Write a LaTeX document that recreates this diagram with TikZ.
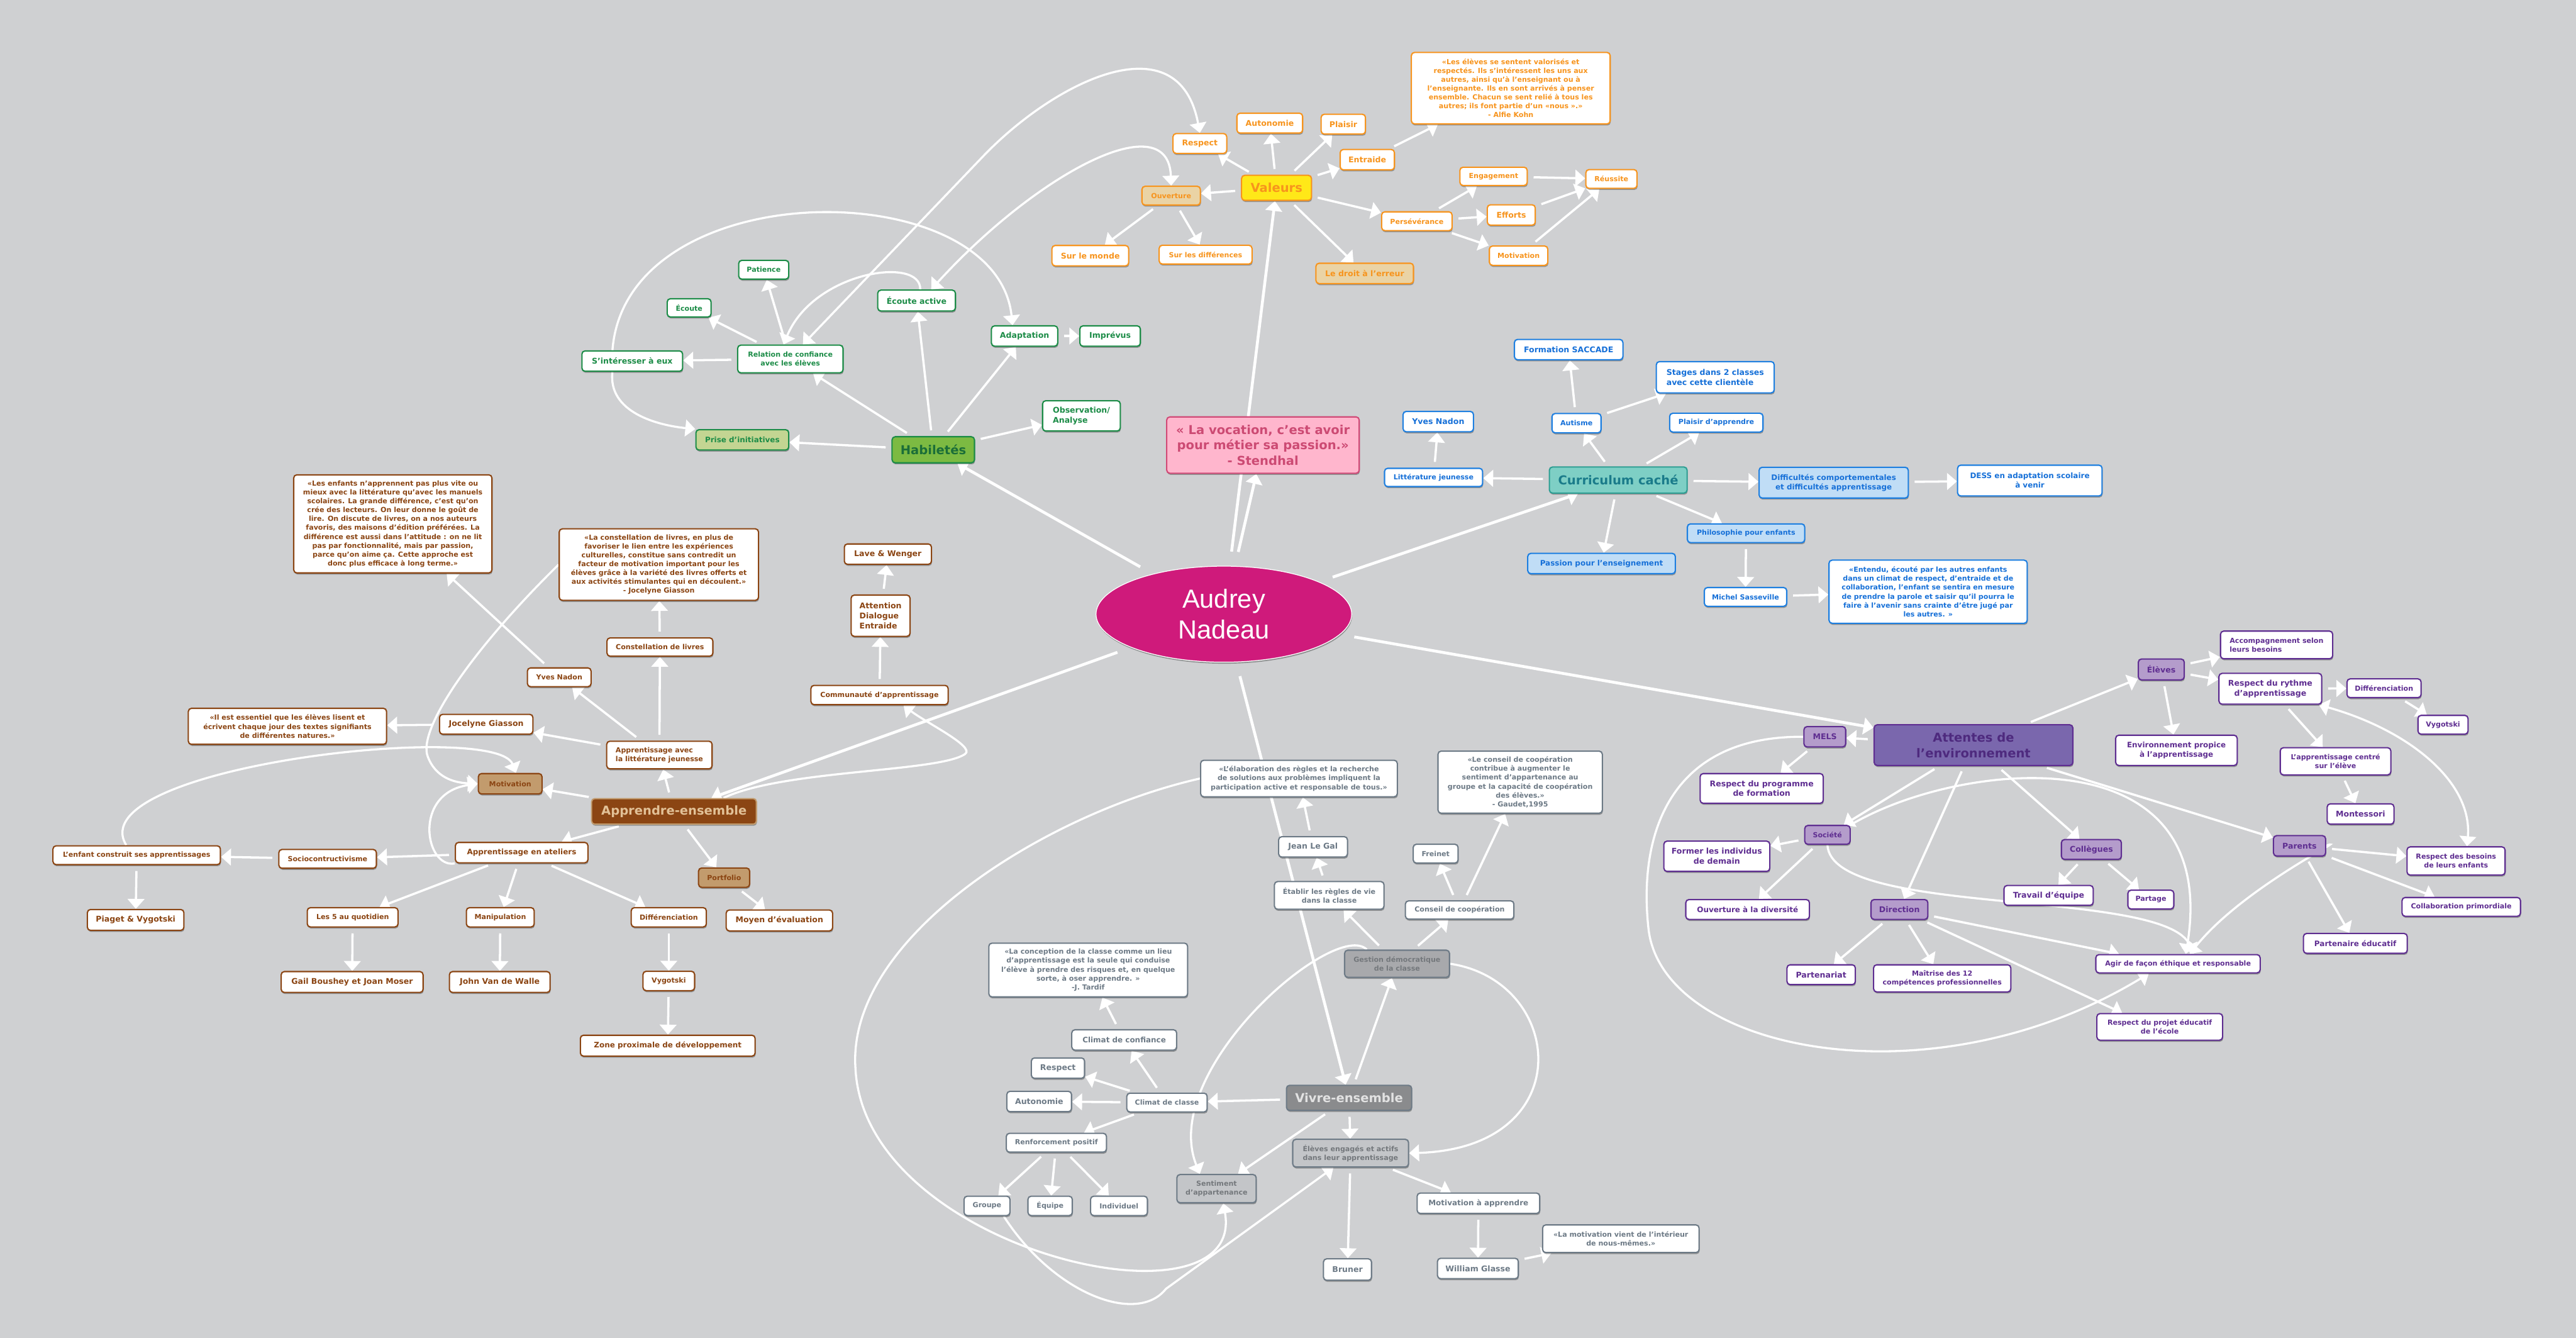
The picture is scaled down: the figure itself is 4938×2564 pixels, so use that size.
\documentclass[tikz,border=0pt]{standalone}
\usepackage{fontspec}
\setmainfont{DejaVu Sans}
\newfontfamily\cfont{Liberation Sans}
\usetikzlibrary{arrows.meta,shapes.geometric,shadows}
\definecolor{bgc}{HTML}{CFD0D2}
\definecolor{orgB}{HTML}{F7941D}
\definecolor{yelF}{HTML}{FFE818}
\definecolor{tanF}{HTML}{EAD3A5}
\definecolor{grnB}{HTML}{1C8C47}
\definecolor{lgF}{HTML}{C3D592}
\definecolor{hgF}{HTML}{7CBA42}
\definecolor{hgT}{HTML}{1B6E38}
\definecolor{bluB}{HTML}{1E7FE0}
\definecolor{bluT}{HTML}{1670D8}
\definecolor{lbF}{HTML}{C0DDF6}
\definecolor{tealF}{HTML}{7ECFC5}
\definecolor{tealB}{HTML}{2E9E93}
\definecolor{tealT}{HTML}{1A7B8A}
\definecolor{brnB}{HTML}{8B4513}
\definecolor{brT}{HTML}{E2C197}
\definecolor{tan2}{HTML}{C29B6D}
\definecolor{gryB}{HTML}{6D7A86}
\definecolor{vivF}{HTML}{8A8B8D}
\definecolor{vivT}{HTML}{E2E2E2}
\definecolor{gesF}{HTML}{A8A9AC}
\definecolor{gesT}{HTML}{74787C}
\definecolor{elF}{HTML}{C3C5C8}
\definecolor{purB}{HTML}{5F2E91}
\definecolor{purF}{HTML}{7A67AD}
\definecolor{purT}{HTML}{4E2A7E}
\definecolor{purL}{HTML}{B49CCB}
\definecolor{pinkF}{HTML}{FFB6CD}
\definecolor{pinkB}{HTML}{D14A77}
\definecolor{pinkT}{HTML}{CC4A73}
\definecolor{cenF}{HTML}{CF1A7B}
\pgfdeclarelayer{bgl}
\pgfdeclarelayer{edges}
\pgfsetlayers{bgl,edges,main}
\tikzset{
  fA/.style={font=\fontsize{8.6pt}{10.8pt}\selectfont\bfseries},
  fM/.style={font=\fontsize{8.2pt}{10.4pt}\selectfont\bfseries},
  fB/.style={font=\fontsize{7.6pt}{9.7pt}\selectfont\bfseries},
  fX/.style={font=\fontsize{13.4pt}{17pt}\selectfont\bfseries},
  sz/.style 2 args={minimum width=#1*0.02cm, minimum height=#2*0.02cm},
  base/.style={rectangle, rounded corners=0.12cm, line width=0.05cm, fill=white,
    inner sep=0.06cm, align=center,
    drop shadow={shadow xshift=0.02cm, shadow yshift=-0.06cm, opacity=0.3, fill=black}},
  thO/.style={base, draw=orgB, text=orgB},
  thG/.style={base, draw=grnB, text=grnB},
  thB/.style={base, draw=bluB, text=bluT},
  thR/.style={base, draw=brnB, text=brnB},
  thY/.style={base, draw=gryB, text=gryB},
  thP/.style={base, draw=purB, text=purB},
  >={Triangle[length=0.38cm,width=0.64cm]},
  ed/.style={draw=white, line width=0.085cm, ->, shorten <=0.22cm},
  ced/.style={draw=white, line width=0.11cm, ->, shorten <=0.55cm},
  rl/.style={draw=white, line width=0.08cm, ->},
  rlb/.style={draw=white, line width=0.08cm, <->}
}
\begin{document}
\begin{tikzpicture}[x=0.02cm,y=-0.02cm]
\begin{pgfonlayer}{bgl}
\fill[bgc] (0,0) rectangle (4938,2564);
\end{pgfonlayer}
\useasboundingbox (0,0) rectangle (4938,2564);

% ---------- centre ----------
\node[ellipse, fill=cenF, draw=white, line width=0.03cm, minimum width=9.8cm, minimum height=3.68cm,
  text=white, align=center, font=\cfont\fontsize{28.5pt}{34pt}\selectfont,
  drop shadow={shadow xshift=0.02cm, shadow yshift=-0.06cm, opacity=0.3, fill=black}] (center) at (2346,1177) {Audrey\\Nadeau};
\node[base, draw=pinkB, fill=pinkF, text=pinkT, fX, sz={369}{108}] (stend) at (2421,853) {« La vocation, c'est avoir\\pour métier sa passion.»\\- Stendhal};

% ---------- Valeurs ----------
\node[thO,fB,sz={381}{137}] (kohn) at (2896,169) {«Les élèves se sentent valorisés et\\respectés. Ils s'intéressent les uns aux\\autres, ainsi qu'à l'enseignant ou à\\l'enseignante. Ils en sont arrivés à penser\\ensemble. Chacun se sent relié à tous les\\autres; ils font partie d'un «nous ».»\\- Alfie Kohn};
\node[thO,fA,sz={126}{38}] (auto) at (2434,236) {Autonomie};
\node[thO,fA,sz={85}{38}] (plaisir) at (2575,238) {Plaisir};
\node[thO,fA,sz={103}{38}] (respO) at (2300,275) {Respect};
\node[thO,fA,sz={104}{39}] (entr) at (2621,306) {Entraide};
\node[thO,fX,fill=yelF,sz={134}{48}] (val) at (2447,360) {Valeurs};
\node[thO,fB,fill=tanF,sz={112}{36}] (ouv) at (2245,375) {Ouverture};
\node[thO,fB,sz={129}{35}] (eng) at (2863,338) {Engagement};
\node[thO,fB,sz={98}{36}] (reus) at (3089,343) {Réussite};
\node[thO,fB,sz={135}{36}] (pers) at (2716,424) {Persévérance};
\node[thO,fA,sz={92}{39}] (eff) at (2897,412) {Efforts};
\node[thO,fB,sz={112}{37}] (motO) at (2911,490) {Motivation};
\node[thO,fA,sz={147}{39}] (monde) at (2090,490) {Sur le monde};
\node[thO,fB,sz={178}{36}] (diff) at (2311,488) {Sur les différences};
\node[thO,fA,fill=tanF,sz={187}{39}] (droit) at (2616,524) {Le droit à l'erreur};

% ---------- Curriculum cache ----------
\node[thB,fA,sz={208}{39}] (sacc) at (3007,670) {Formation SACCADE};
\node[thB,fA,sz={226}{60},align=left] (stages) at (3288,723) {Stages dans 2 classes\\avec cette clientèle};
\node[thB,fA,sz={135}{39}] (yvesB) at (2757,808) {Yves Nadon};
\node[thB,fB,sz={94}{37}] (autis) at (3022,811) {Autisme};
\node[thB,fB,sz={179}{36}] (plapp) at (3290,810) {Plaisir d'apprendre};
\node[thB,fB,sz={188}{35}] (litt) at (2748,915) {Littérature jeunesse};
\node[base,draw=tealB,fill=tealF,text=tealT,fX,sz={264}{50}] (curr) at (3102,920) {Curriculum caché};
\node[thB,fM,fill=lbF,sz={286}{59}] (diffc) at (3515,925) {Difficultés comportementales\\et difficultés apprentissage};
\node[thB,fM,sz={277}{59}] (dess) at (3891,921) {DESS en adaptation scolaire\\à venir};
\node[thB,fB,fill=lbF,sz={225}{36}] (philo) at (3347,1022) {Philosophie pour enfants};
\node[thB,fM,fill=lbF,sz={283}{39}] (passion) at (3070,1080) {Passion pour l'enseignement};
\node[thB,fB,sz={158}{36}] (michel) at (3346,1144) {Michel Sasseville};
\node[thB,fB,sz={380}{121}] (entq) at (3696,1134) {«Entendu, écouté par les autres enfants\\dans un climat de respect, d'entraide et de\\collaboration, l'enfant se sentira en mesure\\de prendre la parole et saisir qu'il pourra le\\faire à l'avenir sans crainte d'être jugé par\\les autres. »};

% ---------- Habiletes ----------
\node[thG,fB,sz={96}{36}] (pat) at (1464,517) {Patience};
\node[thG,fB,sz={84}{35}] (ecoute) at (1321,590) {Écoute};
\node[thG,fA,sz={149}{40}] (ecact) at (1757,576) {Écoute active};
\node[thG,fA,sz={193}{39}] (sint) at (1212,692) {S'intéresser à eux};
\node[thG,fB,sz={202}{53}] (rel) at (1515,688) {Relation de confiance\\avec les élèves};
\node[thG,fA,sz={127}{39}] (adapt) at (1964,644) {Adaptation};
\node[thG,fA,sz={116}{39}] (impr) at (2128,644) {Imprévus};
\node[thG,fA,sz={149}{58},align=left] (obs) at (2073,797) {Observation/\\Analyse};
\node[thG,fM,fill=lgF,sz={178}{39}] (prise) at (1423,843) {Prise d'initiatives};
\node[base,draw=grnB,fill=hgF,text=hgT,fX,sz={158}{50}] (hab) at (1789,862) {Habiletés};

% ---------- Apprendre-ensemble ----------
\node[thR,fB,sz={380}{188}] (lesenf) at (753,1004) {«Les enfants n'apprennent pas plus vite ou\\mieux avec la littérature qu'avec les manuels\\scolaires. La grande différence, c'est qu'on\\crée des lecteurs. On leur donne le goût de\\lire. On discute de livres, on a nos auteurs\\favoris, des maisons d'édition préférées. La\\différence est aussi dans l'attitude : on ne lit\\pas par fonctionnalité, mais par passion,\\parce qu'on aime ça. Cette approche est\\donc plus efficace à long terme.»};
\node[thR,fB,sz={382}{137}] (constq) at (1263,1082) {«La constellation de livres, en plus de\\favoriser le lien entre les expériences\\culturelles, constitue sans contredit un\\facteur de motivation important pour les\\élèves grâce à la variété des livres offerts et\\aux activités stimulantes qui en découlent.»\\- Jocelyne Giasson};
\node[thR,fA,sz={167}{39}] (lave) at (1702,1062) {Lave \& Wenger};
\node[thR,fA,sz={113}{79},align=left] (att) at (1688,1180) {Attention\\Dialogue\\Entraide};
\node[thR,fB,sz={263}{37}] (comm) at (1686,1332) {Communauté d'apprentissage};
\node[thR,fB,sz={203}{35}] (constl) at (1265,1240) {Constellation de livres};
\node[thR,fB,sz={122}{36}] (yvesBr) at (1072,1298) {Yves Nadon};
\node[thR,fB,sz={380}{69}] (ilest) at (551,1392) {«Il est essentiel que les élèves lisent et\\écrivent chaque jour des textes signifiants\\de différentes natures.»};
\node[thR,fA,sz={179}{38}] (joc) at (932,1388) {Jocelyne Giasson};
\node[thR,fB,sz={202}{53},align=left] (applit) at (1264,1447) {Apprentissage avec\\la littérature jeunesse};
\node[thR,fB,fill=tan2,sz={122}{39}] (motB) at (978,1502) {Motivation};
\node[base,draw=tan2,fill=brnB,text=brT,fX,sz={316}{49}] (appr) at (1292,1555) {Apprendre-ensemble};
\node[thR,fB,sz={321}{36}] (enfant) at (262,1639) {L'enfant construit ses apprentissages};
\node[thR,fB,sz={187}{36}] (socio) at (628,1646) {Sociocontructivisme};
\node[thR,fM,sz={254}{39}] (atel) at (1000,1634) {Apprentissage en ateliers};
\node[thR,fB,fill=tan2,sz={98}{37}] (port) at (1388,1682) {Portfolio};
\node[thR,fA,sz={185}{40}] (piaget) at (260,1763) {Piaget \& Vygotski};
\node[thR,fB,sz={174}{37}] (cinq) at (676,1758) {Les 5 au quotidien};
\node[thR,fB,sz={130}{37}] (manip) at (959,1758) {Manipulation};
\node[thR,fB,sz={144}{37}] (diffB) at (1282,1758) {Différenciation};
\node[thR,fA,sz={204}{40}] (moyen) at (1494,1764) {Moyen d'évaluation};
\node[thR,fA,sz={272}{40}] (gail) at (675,1882) {Gail Boushey et Joan Moser};
\node[thR,fA,sz={193}{40}] (john) at (958,1882) {John Van de Walle};
\node[thR,fB,sz={99}{37}] (vygB) at (1282,1880) {Vygotski};
\node[thR,fM,sz={335}{40}] (zone) at (1280,2004) {Zone proximale de développement};

% ---------- Vivre-ensemble ----------
\node[thY,fB,sz={377}{70}] (elabq) at (2490,1492) {«L'élaboration des règles et la recherche\\de solutions aux problèmes impliquent la\\participation active et responsable de tous.»};
\node[thY,fB,sz={315}{119}] (consq) at (2914,1499) {«Le conseil de coopération\\contribue à augmenter le\\sentiment d'appartenance au\\groupe et la capacité de coopération\\des élèves.»\\- Gaudet,1995};
\node[thY,fA,sz={132}{39}] (legal) at (2517,1623) {Jean Le Gal};
\node[thY,fB,sz={86}{36}] (freinet) at (2752,1636) {Freinet};
\node[thY,fB,sz={210}{53}] (etablir) at (2548,1716) {Établir les règles de vie\\dans la classe};
\node[thY,fB,sz={208}{35}] (conseil) at (2798,1744) {Conseil de coopération};
\node[thY,fB,fill=gesF,text=gesT,sz={201}{52}] (gest) at (2678,1847) {Gestion démocratique\\de la classe};
\node[thY,fB,sz={381}{103}] (concq) at (2086,1859) {«La conception de la classe comme un lieu\\d'apprentissage est la seule qui conduise\\l'élève à prendre des risques et, en quelque\\sorte, à oser apprendre. »\\-J. Tardif};
\node[thY,fM,sz={201}{39}] (confi) at (2155,1993) {Climat de confiance};
\node[thY,fA,sz={102}{39}] (respG) at (2028,2047) {Respect};
\node[thY,fA,sz={124}{39}] (autoG) at (1992,2111) {Autonomie};
\node[thY,fB,sz={154}{36}] (climat) at (2237,2113) {Climat de classe};
\node[base,draw=gryB,fill=vivF,text=vivT,fX,sz={240}{48}] (vivre) at (2586,2104) {Vivre-ensemble};
\node[thY,fB,sz={192}{36}] (renf) at (2025,2190) {Renforcement positif};
\node[thY,fB,fill=elF,text=gesT,sz={222}{53},align=left] (eleves) at (2589,2210) {Élèves engagés et actifs\\dans leur apprentissage};
\node[thY,fB,fill=elF,text=gesT,sz={152}{54}] (sent) at (2332,2278) {Sentiment\\d'appartenance};
\node[thY,fB,sz={88}{37}] (grp) at (1892,2311) {Groupe};
\node[thY,fB,sz={85}{37}] (equipe) at (2013,2311) {Équipe};
\node[thY,fB,sz={109}{37}] (indiv) at (2145,2311) {Individuel};
\node[thY,fM,sz={235}{39}] (motapp) at (2834,2306) {Motivation à apprendre};
\node[thY,fA,sz={92}{41}] (bruner) at (2583,2433) {Bruner};
\node[thY,fA,sz={155}{39}] (glasse) at (2833,2431) {William Glasse};
\node[thY,fB,sz={300}{53}] (motq) at (3107,2374) {«La motivation vient de l'intérieur\\de nous-mêmes.»};

% ---------- Attentes ----------
\node[thP,fB,sz={215}{53},align=left] (accomp) at (4364,1236) {Accompagnement selon\\leurs besoins};
\node[thP,fA,fill=purL,sz={88}{40}] (elv) at (4143,1283) {Élèves};
\node[thP,fA,sz={197}{59}] (rythme) at (4352,1320) {Respect du rythme\\d'apprentissage};
\node[thP,fB,sz={142}{36}] (diffP) at (4570,1319) {Différenciation};
\node[thP,fB,sz={96}{36}] (vygP) at (4683,1389) {Vygotski};
\node[thP,fA,fill=purL,sz={80}{39}] (mels) at (3498,1412) {MELS};
\node[base,draw=purB,fill=purF,text=purT,fX,sz={381}{78}] (attentes) at (3783,1428) {Attentes de\\l'environnement};
\node[thP,fM,sz={233}{58}] (envir) at (4172,1438) {Environnement propice\\à l'apprentissage};
\node[thP,fB,sz={212}{52}] (centre) at (4477,1459) {L'apprentissage centré\\sur l'élève};
\node[thP,fA,sz={236}{57}] (program) at (3377,1511) {Respect du programme\\de formation};
\node[thP,fA,sz={128}{39}] (montes) at (4525,1560) {Montessori};
\node[thP,fB,fill=purL,sz={87}{36}] (soc) at (3503,1600) {Société};
\node[thP,fA,sz={203}{58}] (former) at (3291,1641) {Former les individus\\de demain};
\node[thP,fA,fill=purL,sz={115}{38}] (coll) at (4009,1628) {Collègues};
\node[thP,fA,fill=purL,sz={100}{39}] (parents) at (4408,1621) {Parents};
\node[thP,fB,sz={188}{54}] (besoins) at (4708,1650) {Respect des besoins\\de leurs enfants};
\node[thP,fA,sz={171}{38}] (travail) at (3927,1716) {Travail d'équipe};
\node[thP,fB,sz={88}{36}] (partage) at (4123,1724) {Partage};
\node[thP,fB,sz={227}{36}] (collab) at (4718,1738) {Collaboration primordiale};
\node[thP,fM,sz={237}{38}] (ouvdiv) at (3350,1743) {Ouverture à la diversité};
\node[thP,fA,fill=purL,sz={109}{38}] (dir) at (3641,1743) {Direction};
\node[thP,fM,sz={199}{38}] (partn) at (4515,1808) {Partenaire éducatif};
\node[thP,fA,sz={131}{38}] (partenariat) at (3491,1868) {Partenariat};
\node[thP,fB,sz={263}{52}] (maitrise) at (3723,1875) {Maîtrise des 12\\compétences professionnelles};
\node[thP,fB,sz={315}{35}] (agir) at (4175,1847) {Agir de façon éthique et responsable};
\node[thP,fB,sz={241}{51}] (projet) at (4140,1968) {Respect du projet éducatif\\de l'école};

% ================= EDGES =================
\begin{pgfonlayer}{edges}
% centre
\draw[ced] (center) -- (hab);
\draw[ced] (center) -- (val);
\draw[ced] (center) -- (stend);
\draw[ced] (center) -- (curr);
\draw[ced] (center) -- (attentes);
\draw[ced] (center) -- (vivre);
\draw[ced] (center) -- (appr);
% valeurs
\foreach \t in {respO,auto,plaisir,entr,ouv,pers,droit} \draw[ed] (val) -- (\t);
\draw[ed] (ouv) -- (monde);
\draw[ed] (ouv) -- (diff);
\draw[ed] (pers) -- (eng);
\draw[ed] (pers) -- (eff);
\draw[ed] (pers) -- (motO);
\draw[ed] (eng) -- (reus);
\draw[ed] (eff) -- (reus);
\draw[ed] (motO) -- (reus);
\draw[ed] (entr) -- (kohn);
% curriculum
\foreach \t in {litt,autis,plapp,diffc,philo,passion} \draw[ed] (curr) -- (\t);
\draw[ed] (litt) -- (yvesB);
\draw[ed] (autis) -- (sacc);
\draw[ed] (autis) -- (stages);
\draw[ed] (diffc) -- (dess);
\draw[ed] (philo) -- (michel);
\draw[ed] (michel) -- (entq);
% habiletes
\foreach \t in {prise,rel,ecact,adapt,obs} \draw[ed] (hab) -- (\t);
\draw[ed] (rel) -- (sint);
\draw[ed] (rel) -- (ecoute);
\draw[ed] (rel) -- (pat);
\draw[ed] (adapt) -- (impr);
% apprendre
\foreach \t in {motB,applit,atel,port} \draw[ed] (appr) -- (\t);
\draw[ed] (applit) -- (joc);
\draw[ed] (applit) -- (yvesBr);
\draw[ed] (applit) -- (constl);
\draw[ed] (constl) -- (constq);
\draw[ed] (yvesBr) -- (lesenf);
\draw[ed] (joc) -- (ilest);
\foreach \t in {socio,cinq,manip,diffB} \draw[ed] (atel) -- (\t);
\draw[ed] (socio) -- (enfant);
\draw[ed] (enfant) -- (piaget);
\draw[ed] (cinq) -- (gail);
\draw[ed] (manip) -- (john);
\draw[ed] (diffB) -- (vygB);
\draw[ed] (vygB) -- (zone);
\draw[ed] (port) -- (moyen);
\draw[ed] (comm) -- (att);
\draw[ed] (att) -- (lave);
% vivre
\foreach \t in {climat,eleves,sent,gest} \draw[ed] (vivre) -- (\t);
\foreach \t in {confi,respG,autoG,renf} \draw[ed] (climat) -- (\t);
\draw[ed] (confi) -- (concq);
\foreach \t in {grp,equipe,indiv} \draw[ed] (renf) -- (\t);
\draw[ed] (eleves) -- (bruner);
\draw[ed] (eleves) -- (motapp);
\draw[ed] (motapp) -- (glasse);
\draw[ed] (glasse) -- (motq);
\draw[ed] (gest) -- (etablir);
\draw[ed] (gest) -- (conseil);
\draw[ed] (etablir) -- (legal);
\draw[ed] (legal) -- (elabq);
\draw[ed] (conseil) -- (freinet);
\draw[ed] (conseil) -- (consq);
% attentes
\foreach \t in {mels,elv,soc,dir,coll,parents} \draw[ed] (attentes) -- (\t);
\draw[ed] (elv) -- (accomp);
\draw[ed] (elv) -- (rythme);
\draw[ed] (elv) -- (envir);
\draw[ed] (rythme) -- (diffP);
\draw[ed] (rythme) -- (centre);
\draw[ed] (diffP) -- (vygP);
\draw[ed] (centre) -- (montes);
\draw[ed] (mels) -- (program);
\draw[ed] (soc) -- (former);
\draw[ed] (soc) -- (ouvdiv);
\draw[ed] (dir) -- (partenariat);
\draw[ed] (dir) -- (maitrise);
\draw[ed] (dir) -- ([xshift=-2.26cm]agir.north);
\draw[ed] (dir) -- ([xshift=-1.44cm]projet.north);
\draw[ed] (coll) -- (travail);
\draw[ed] (coll) -- (partage);
\draw[ed] (parents) -- (besoins);
\draw[ed] (parents) -- (collab);
\draw[ed] (parents) -- (partn);
% relationship curves
\draw[rlb] ([xshift=0.48cm]rel.north) -- (1886,298) .. controls (2025,154) and (2260,40) .. (respO.north);
\draw[rlb] ([xshift=0.56cm]ecact.north) .. controls (1990,330) and (2240,200) .. (ouv.north);
\draw[rl] ([xshift=-0.76cm]sint.north) .. controls (1200,330) and (1910,330) .. ([xshift=-0.46cm]adapt.north);
\draw[rl] ([xshift=-0.76cm]sint.south) .. controls (1165,790) and (1260,815) .. (prise.north west);
\draw[rl] ([xshift=0.14cm]ecact.north) .. controls (1766,490) and (1560,520) .. ([xshift=-0.26cm]rel.north);
\draw[rl] (constq.west) .. controls (900,1250) and (800,1400) .. (820,1450) .. controls (835,1490) and (870,1500) .. (motB.west);
\draw[rl] (atel.south west) .. controls (815,1665) and (790,1520) .. (motB.west);
\draw[rl] ([xshift=-0.4cm]enfant.north) .. controls (150,1470) and (950,1380) .. ([xshift=0.22cm]motB.north);
\draw[rl] ([xshift=1.9cm]appr.north) .. controls (1500,1475) and (1800,1480) .. (1850,1445) .. controls (1870,1431) and (1775,1385) .. ([xshift=0.92cm]comm.south);
\draw[rl] ([xshift=-1.16cm]gest.north) .. controls (2560,1760) and (2220,2050) .. ([xshift=-0.64cm]sent.north);
\draw[rl] (gest.east) .. controls (3000,1880) and (3030,2200) .. (eleves.east);
\draw[rl] (elabq.west) .. controls (2000,1560) and (1620,1800) .. (1640,2050) .. controls (1660,2400) and (2390,2560) .. ([xshift=0.26cm]sent.south);
\draw[rl] ([xshift=0.64cm]grp.south) .. controls (2020,2480) and (2180,2540) .. (2235,2470) -- ([xshift=-0.66cm]eleves.south);
\draw[rl] (mels.west) .. controls (3200,1410) and (3140,1600) .. (3160,1780) .. controls (3186,2014) and (3700,2120) .. ([xshift=-1.12cm]agir.south);
\draw[rl] (soc.north east) .. controls (3750,1460) and (4260,1400) .. ([xshift=0.3cm]agir.north);
\draw[rl] (soc.south) .. controls (3510,1760) and (4150,1700) .. ([xshift=0.6cm]agir.north);
\draw[rl] (parents.east) .. controls (4510,1600) and (4300,1700) .. ([xshift=0.45cm]agir.north);
\draw[rlb] ([xshift=1.86cm]rythme.south) .. controls (4620,1400) and (4740,1500) .. ([xshift=0.42cm]besoins.north);
\end{pgfonlayer}
\end{tikzpicture}
\end{document}
